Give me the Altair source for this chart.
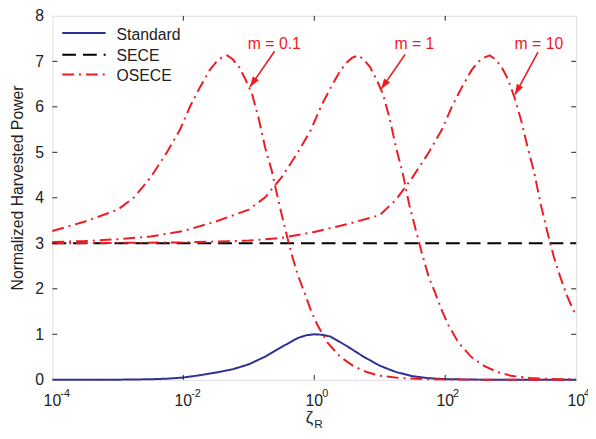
import math
import altair as alt
import pandas as pd

# ---------------- data ----------------
# x positions are log10(zeta_R); y values are normalized harvested power
std_lg = [-4, -3, -2.5, -2.25, -2, -1.75, -1.5, -1.25, -1, -0.75, -0.5, -0.25, -0.12, 0,
          0.12, 0.25, 0.5, 0.75, 1.0, 1.25, 1.5, 1.75, 2, 2.5, 3, 4]
std_val = [0.0, 0.003, 0.012, 0.025, 0.05, 0.1, 0.16, 0.23, 0.34, 0.51, 0.72, 0.92, 0.98, 1.0,
           0.99, 0.95, 0.74, 0.51, 0.31, 0.17, 0.08, 0.035, 0.015, 0.004, 0.001, 0.0]

sece_lg = [-4, 4]
sece_val = [3.0, 3.0]

m01_lg = [-4.0, -3.5, -3.0, -2.75, -2.5, -2.25, -2.05, -1.9, -1.75, -1.6, -1.5, -1.42, -1.33,
          -1.25, -1.15, -1.05, -0.95, -0.85, -0.75, -0.65, -0.55, -0.45, -0.35, -0.25, -0.15,
          -0.05, 0.05, 0.2, 0.4, 0.6, 0.8, 1.0, 1.3, 1.7, 2.2, 3.0, 4.0]
m01_val = [3.27, 3.48, 3.74, 4.01, 4.45, 5.00, 5.50, 6.00, 6.42, 6.80, 6.98, 7.08, 7.13,
           7.05, 6.88, 6.60, 6.28, 5.75, 5.10, 4.60, 3.95, 3.35, 2.78, 2.30, 1.92,
           1.52, 1.20, 0.82, 0.50, 0.30, 0.17, 0.09, 0.04, 0.015, 0.005, 0.0, 0.0]

m1_lg = [-4.0, -3.5, -3.0, -2.5, -2.0, -1.5, -1.0, -0.75, -0.5, -0.25, -0.05, 0.1, 0.25, 0.4,
         0.5, 0.58, 0.67, 0.75, 0.85, 0.95, 1.05, 1.15, 1.25, 1.35, 1.45, 1.55, 1.65, 1.75,
         1.85, 1.95, 2.05, 2.2, 2.4, 2.6, 2.8, 3.0, 3.3, 3.7, 4.0]
m1_val = [3.03, 3.05, 3.09, 3.15, 3.27, 3.48, 3.74, 4.01, 4.45, 5.00, 5.50, 6.00, 6.42, 6.80,
          6.98, 7.08, 7.13, 7.05, 6.88, 6.60, 6.28, 5.75, 5.10, 4.55, 3.85, 3.30, 2.75, 2.25,
          1.90, 1.52, 1.20, 0.82, 0.50, 0.30, 0.17, 0.09, 0.04, 0.015, 0.007]

m10_lg = [-4.0, -3.0, -2.0, -1.5, -1.0, -0.5, 0.0, 0.5, 1.0, 1.25, 1.5, 1.75, 1.95, 2.1, 2.25,
          2.4, 2.5, 2.59, 2.68, 2.76, 2.86, 2.96, 3.06, 3.16, 3.26, 3.36, 3.46, 3.56, 3.66,
          3.76, 3.86, 3.96, 4.0]
m10_val = [3.00, 3.01, 3.02, 3.04, 3.06, 3.12, 3.25, 3.42, 3.62, 3.96, 4.45, 5.00, 5.50, 6.00,
           6.42, 6.80, 6.98, 7.08, 7.13, 7.05, 6.88, 6.60, 6.20, 5.70, 5.10, 4.55, 3.85, 3.25,
           2.70, 2.25, 1.85, 1.52, 1.45]

series_names = ["Standard", "SECE", "OSECE"]
series_colors = ["#2e3192", "#000000", "#ed1c24"]
series_dashes = [[1, 0], [14, 7], [12, 5, 2, 5]]

# x tick labels (10^exp)
xtick_exp = [-4, -2, 0, 2, 4]
xtick_inner = [-2, 0, 2]
ytick_inner = [1, 2, 3, 4, 5, 6, 7]

# annotations: label, label position, arrow start, arrow tip (log10 zeta, power)
ann_label = ["m = 0.1", "m = 1", "m = 10"]
ann_text_lg = [-0.61, 1.53, 3.43]
ann_text_val = [7.27, 7.27, 7.27]
ann_start_lg = [-0.606, 1.386, 3.417]
ann_start_val = [7.22, 7.15, 7.20]
ann_tip_lg = [-0.982, 1.022, 3.066]
ann_tip_val = [6.44, 6.39, 6.27]

# ---------------- build tables ----------------
rows = []
def add(series, curve, lgs, vals):
    for i, (l, v) in enumerate(zip(lgs, vals)):
        rows.append(dict(zeta=10.0 ** l, power=v, series=series, curve=curve, order=i))

add("Standard", "std", std_lg, std_val)
add("SECE", "sece", sece_lg, sece_val)
add("OSECE", "m01", m01_lg, m01_val)
add("OSECE", "m1", m1_lg, m1_val)
add("OSECE", "m10", m10_lg, m10_val)
df = pd.DataFrame(rows)

W, H = 531, 369
PX_DEC = W / 8.0
PX_UNIT = H / 8.0

ann = pd.DataFrame({
    "label": ann_label,
    "tx": [10.0 ** v for v in ann_text_lg], "ty": ann_text_val,
    "sx": [10.0 ** v for v in ann_start_lg], "sy": ann_start_val,
    "ex": [10.0 ** v for v in ann_tip_lg], "ey": ann_tip_val,
})
angles = []
for a, b, c, d in zip(ann_start_lg, ann_start_val, ann_tip_lg, ann_tip_val):
    dx = (c - a) * PX_DEC
    dy = -(d - b) * PX_UNIT
    angles.append(math.degrees(math.atan2(dx, -dy)) % 360)
ann["angle"] = angles

xt = pd.DataFrame({"zeta": [10.0 ** e for e in xtick_exp], "base": ["10"] * len(xtick_exp),
                   "exp": [str(e) for e in xtick_exp]})
xti = pd.DataFrame({"zeta": [10.0 ** e for e in xtick_inner]})
yti = pd.DataFrame({"power": ytick_inner})
one = pd.DataFrame({"zeta": [1.0]})

FONT = "Liberation Sans"
RED = "#ed1c24"
INK = "#222222"

xs = alt.Scale(type="log", domain=[1e-4, 1e4], nice=False)
ys = alt.Scale(domain=[0, 8], nice=False)
cscale = alt.Scale(domain=series_names, range=series_colors)
dscale = alt.Scale(domain=series_names, range=series_dashes)

xenc = alt.X("zeta:Q", scale=xs, axis=alt.Axis(title=None, labels=False, ticks=False,
                                                 domain=False, grid=False))

lines = alt.Chart(df).mark_line(strokeWidth=2).encode(
    x=xenc,
    y=alt.Y("power:Q", scale=ys,
            axis=alt.Axis(title="Normalized Harvested Power", values=list(range(9)),
                          ticks=False, tickSize=0, domain=False, grid=False,
                          labelFontSize=16, labelFont=FONT, labelColor=INK, labelPadding=9,
                          titleFontSize=16, titleFont=FONT, titleFontWeight="normal",
                          titleColor=INK, titleX=-30, titleY=174, titleAngle=270,
                          titleBaseline="alphabetic", titleAlign="center")),
    color=alt.Color("series:N", scale=cscale, legend=None),
    strokeDash=alt.StrokeDash("series:N", scale=dscale, legend=None),
    detail="curve:N",
    order="order:Q",
)

# legend (drawn inside the plot, upper left)
leg_layers = []
leg_line_y = [17.5, 39.5, 59.5]
leg_text_y = [19.5, 40.5, 61.5]
for i, name in enumerate(series_names):
    ld = pd.DataFrame({"series": [name]})
    leg_layers.append(alt.Chart(ld).mark_rule(strokeWidth=2).encode(
        x=alt.value(10), x2=alt.value(54), y=alt.value(leg_line_y[i]),
        color=alt.Color("series:N", scale=cscale, legend=None),
        strokeDash=alt.StrokeDash("series:N", scale=dscale, legend=None)))
    leg_layers.append(alt.Chart(ld).mark_text(font=FONT, fontSize=16, color=INK, align="left",
                                              baseline="middle").encode(
        x=alt.value(65), y=alt.value(leg_text_y[i]), text="series:N"))

# inward ticks
xb = alt.Chart(xti).mark_rule(color=INK, strokeWidth=1).encode(
    x=alt.X("zeta:Q", scale=xs), y=alt.value(H), y2=alt.value(H - 5))
xtp = alt.Chart(xti).mark_rule(color=INK, strokeWidth=1).encode(
    x=alt.X("zeta:Q", scale=xs), y=alt.value(0), y2=alt.value(5))
yl = alt.Chart(yti).mark_rule(color=INK, strokeWidth=1).encode(
    y=alt.Y("power:Q", scale=ys), x=alt.value(0), x2=alt.value(5))
yr = alt.Chart(yti).mark_rule(color=INK, strokeWidth=1).encode(
    y=alt.Y("power:Q", scale=ys), x=alt.value(W), x2=alt.value(W - 5))

# x tick labels 10^n
xlab = alt.Chart(xt).mark_text(font=FONT, fontSize=16, color=INK, align="center",
                               baseline="middle").encode(
    x=alt.X("zeta:Q", scale=xs), y=alt.value(H + 22), text="base:N")
xexp = alt.Chart(xt).mark_text(font=FONT, fontSize=11, color=INK, align="left",
                               baseline="middle", dx=8).encode(
    x=alt.X("zeta:Q", scale=xs), y=alt.value(H + 14), text="exp:N")

# x title zeta_R
zt = alt.Chart(one).mark_text(font=FONT, fontSize=17, color=INK, align="center",
                              baseline="middle", dx=-5, text="ζ").encode(
    x=alt.X("zeta:Q", scale=xs), y=alt.value(H + 39))
zr = alt.Chart(one).mark_text(font=FONT, fontSize=12, color=INK, align="left",
                              baseline="middle", dx=0, text="R").encode(
    x=alt.X("zeta:Q", scale=xs), y=alt.value(H + 45))

# annotations
atext = alt.Chart(ann).mark_text(font=FONT, fontSize=16, color=RED, align="center",
                                 baseline="alphabetic").encode(
    x=alt.X("tx:Q", scale=xs), y=alt.Y("ty:Q", scale=ys), text="label:N")
ashaft = alt.Chart(ann).mark_rule(color=RED, strokeWidth=1.6).encode(
    x=alt.X("sx:Q", scale=xs), y=alt.Y("sy:Q", scale=ys), x2="ex:Q", y2="ey:Q")
ahead = alt.Chart(ann).mark_point(shape="M0,0L-0.7,2L0.7,2Z", filled=True, size=110,
                                  color=RED, opacity=1, strokeWidth=0).encode(
    x=alt.X("ex:Q", scale=xs), y=alt.Y("ey:Q", scale=ys), angle=alt.Angle("angle:Q", scale=None))

chart = alt.layer(lines, xb, xtp, yl, yr, xlab, xexp, zt, zr, ashaft, ahead, atext,
                  *leg_layers).properties(
    width=W, height=H,
    autosize=alt.AutoSizeParams(type="none"),
    padding={"left": 45, "top": 5, "right": 12, "bottom": 52},
).configure_view(stroke=INK, strokeWidth=1.2).configure(background="white")

chart.save("out.html", embed_options={"renderer": "svg", "actions": False})
